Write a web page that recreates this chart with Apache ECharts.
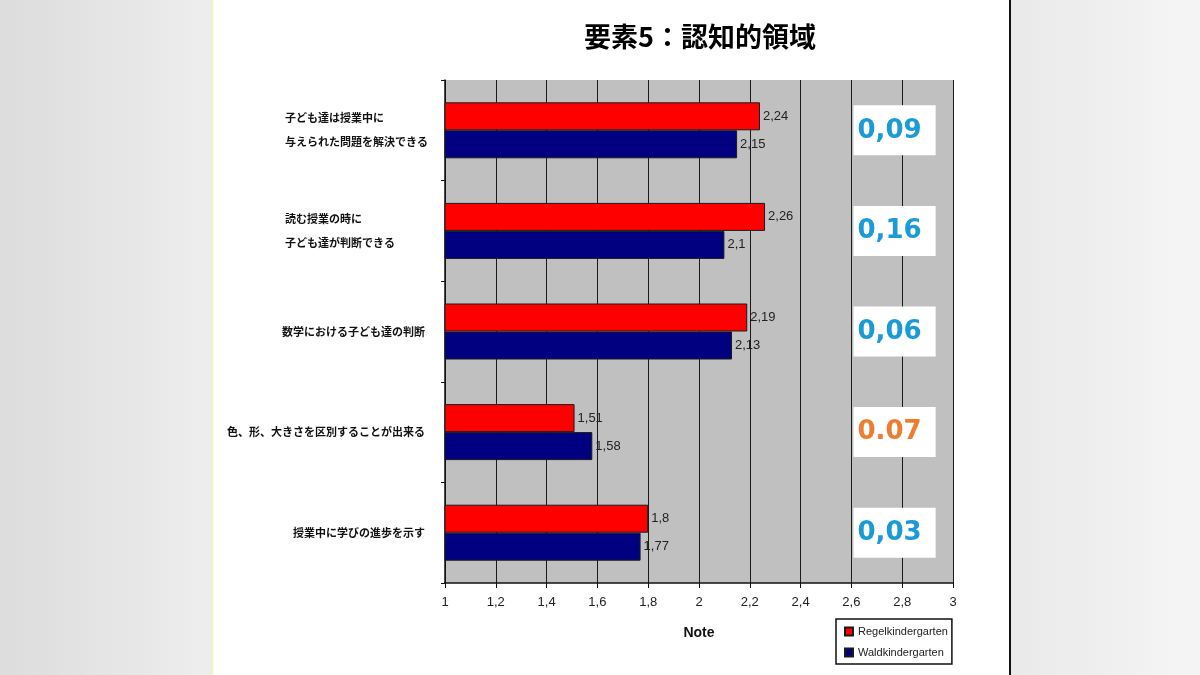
<!DOCTYPE html>
<html>
<head>
<meta charset="utf-8">
<script src="https://cdn.jsdelivr.net/npm/echarts@6/dist/echarts.min.js"></script>
<style>
  html, body { margin: 0; padding: 0; }
  #chart { width: 1200px; height: 675px; }
</style>
</head>
<body>
<div id="chart"></div>
<script>
// data
const categories = [
    '子ども達は授業中に\n与えられた問題を解決できる',
    '読む授業の時に\n子ども達が判断できる',
    '数学における子ども達の判断',
    '色、形、大きさを区別することが出来る',
    '授業中に学びの進歩を示す'
];
const regelValues = [2.24, 2.26, 2.19, 1.51, 1.8];
const waldValues = [2.15, 2.1, 2.13, 1.58, 1.77];
const diffLabels = ['0,09', '0,16', '0,06', '0.07', '0,03'];
const diffX = [2.77, 2.77, 2.77, 2.77, 2.77];
const seriesNames = ['Regelkindergarten', 'Waldkindergarten'];

const blue = '#1a9ad6';
const orange = '#ee7d31';

const comma = (v) => String(+(+v).toFixed(2)).replace('.', ',');

const myChart = echarts.init(document.getElementById('chart'));
myChart.setOption({
    animation: false,
    title: {
        text: '要素5：認知的領域',
        left: 695,
        top: 18,
        textAlign: 'center',
        textStyle: {
            fontFamily: '"Noto Sans CJK JP"',
            fontSize: 27,
            fontWeight: 'bold',
            color: '#000',
        },
    },
    graphic: [
        {
            type: 'rect',
            silent: true,
            z: -10,
            shape: { x: 0, y: 0, width: 1200, height: 675 },
            style: {
                fill: new echarts.graphic.LinearGradient(0, 0, 1, 0, [
                    { offset: 0, color: '#dcdcdc' },
                    { offset: 0.17, color: '#ededed' },
                    { offset: 0.84, color: '#e9e9e9' },
                    { offset: 1, color: '#f5f5f5' },
                ]),
            },
        },
        {
            type: 'rect',
            silent: true,
            z: -9,
            shape: { x: 212, y: 0, width: 798, height: 675 },
            style: { fill: '#ffffff' },
        },
        {
            type: 'line',
            silent: true,
            z: -8,
            shape: { x1: 1010, y1: 0, x2: 1010, y2: 675 },
            style: { stroke: '#111', lineWidth: 2 },
        },
        {
            type: 'line',
            silent: true,
            z: -8,
            shape: { x1: 212.5, y1: 0, x2: 212.5, y2: 675 },
            style: { stroke: '#f1f5c4', lineWidth: 2 },
        },
    ],
    legend: {
        data: seriesNames,
        orient: 'vertical',
        left: 836,
        top: 619,
        icon: 'rect',
        itemWidth: 8,
        itemHeight: 8,
        itemGap: 10,
        padding: [7, 4, 6, 8],
        backgroundColor: '#fff',
        borderColor: '#111',
        borderWidth: 1.5,
        textStyle: {
            fontFamily: '"Liberation Sans Narrow", "Liberation Sans"',
            fontSize: 11,
            color: '#222',
        },
    },
    grid: {
        left: 445,
        right: 247,
        top: 80,
        bottom: 92,
        show: true,
        backgroundColor: '#c0c0c0',
        borderWidth: 0,
    },
    xAxis: {
        type: 'value',
        min: 1,
        max: 3,
        interval: 0.2,
        name: 'Note',
        nameLocation: 'middle',
        nameGap: 43,
        nameTextStyle: {
            fontFamily: '"Liberation Sans Narrow", "Liberation Sans"',
            fontSize: 14,
            fontWeight: 'bold',
            color: '#111',
        },
        axisLine: { show: true, lineStyle: { color: '#111', width: 1.5 } },
        axisTick: { show: true, length: 5, lineStyle: { color: '#111' } },
        axisLabel: {
            margin: 13,
            fontFamily: '"Liberation Sans"',
            fontSize: 13,
            color: '#222',
            formatter: comma,
        },
        splitLine: { show: true, lineStyle: { color: '#1a1a1a', width: 1 } },
    },
    yAxis: {
        type: 'category',
        data: categories,
        inverse: true,
        axisLine: { show: true, lineStyle: { color: '#111', width: 1.5 } },
        axisTick: { show: true, length: 4, lineStyle: { color: '#111' } },
        axisLabel: {
            margin: 20,
            fontFamily: '"Noto Sans CJK JP"',
            fontSize: 11,
            fontWeight: 'bold',
            color: '#111',
            lineHeight: 24,
            formatter: (v) => {
                const lines = v.split('\n');
                if (lines.length === 1) return v;
                return lines.map((s) => '{l|' + s + '}').join('\n');
            },
            rich: {
                l: {
                    width: 140,
                    align: 'left',
                    fontFamily: '"Noto Sans CJK JP"',
                    fontSize: 11,
                    fontWeight: 'bold',
                    color: '#111',
                    lineHeight: 24,
                },
            },
        },
        splitLine: { show: false },
    },
    series: [
        {
            name: seriesNames[0],
            type: 'bar',
            data: regelValues,
            barWidth: 28,
            barGap: '0%',
            itemStyle: { color: '#ff0000', borderColor: '#1a1a1a', borderWidth: 1 },
            label: {
                show: true,
                position: 'right',
                distance: 3,
                fontFamily: '"Liberation Sans"',
                fontSize: 13,
                color: '#222',
                formatter: (p) => comma(p.value),
            },
        },
        {
            name: seriesNames[1],
            type: 'bar',
            data: waldValues,
            barWidth: 28,
            barGap: '0%',
            itemStyle: { color: '#000080', borderColor: '#1a1a1a', borderWidth: 1 },
            label: {
                show: true,
                position: 'right',
                distance: 3,
                fontFamily: '"Liberation Sans"',
                fontSize: 13,
                color: '#222',
                formatter: (p) => comma(p.value),
            },
        },
        {
            name: 'diff',
            type: 'scatter',
            data: diffX.map((x, i) => [x, categories[i]]),
            symbolSize: 1,
            itemStyle: { color: 'rgba(0,0,0,0)', opacity: 1 },
            z: 5,
            label: {
                show: true,
                opacity: 1,
                position: 'inside',
                formatter: (p) => '{' + (p.dataIndex === 3 ? 'o' : 'b') + '|' + diffLabels[p.dataIndex] + '}',
                backgroundColor: '#fff',
                padding: [10, 14, 9, 4],
                rich: {
                    b: {
                        fontFamily: '"DejaVu Sans"',
                        fontSize: 26,
                        fontWeight: 'bold',
                        color: blue,
                        lineHeight: 31,
                    },
                    o: {
                        fontFamily: '"DejaVu Sans"',
                        fontSize: 26,
                        fontWeight: 'bold',
                        color: orange,
                        lineHeight: 31,
                    },
                },
            },
        },
    ],
});
</script>
</body>
</html>
